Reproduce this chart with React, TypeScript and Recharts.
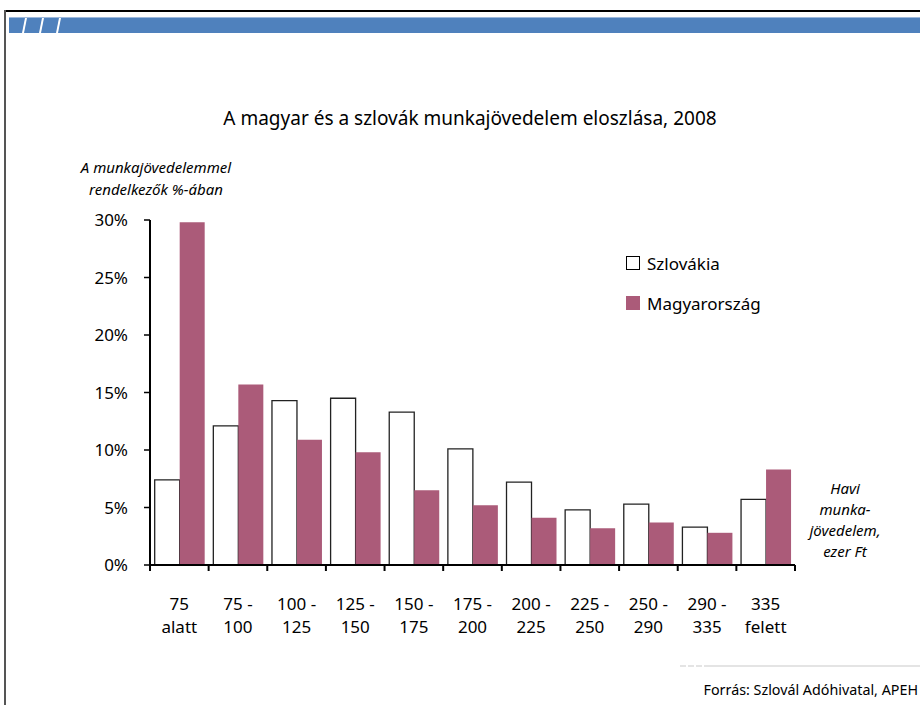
import React from 'react';
import { BarChart, Bar, XAxis, YAxis, Legend } from 'recharts';

const categoryTop = ['75', '75 -', '100 -', '125 -', '150 -', '175 -', '200 -', '225 -', '250 -', '290 -', '335'];
const categoryBottom = ['alatt', '100', '125', '150', '175', '200', '225', '250', '290', '335', 'felett'];
const slovakia = [7.4, 12.1, 14.3, 14.5, 13.3, 10.1, 7.2, 4.8, 5.3, 3.3, 5.7];
const hungary = [29.8, 15.7, 10.9, 9.8, 6.5, 5.2, 4.1, 3.2, 3.7, 2.8, 8.3];
const yTicks = [0, 5, 10, 15, 20, 25, 30];
const seriesNames = ['Szlovákia', 'Magyarország'];

const data = categoryTop.map((t, i) => ({
  name: t + '|' + categoryBottom[i],
  top: t,
  bottom: categoryBottom[i],
  sk: slovakia[i],
  hu: hungary[i],
}));

const W = 920;
const H = 705;
const Y_W = 60;
const X_H = 80;
const M = { top: 220, right: 125, bottom: 140 - X_H, left: 150 - Y_W };
const BAND = (W - 150 - M.right) / categoryTop.length;
const HU_COLOR = '#AB5B79';
const FONT = '"Noto Sans", "Open Sans", sans-serif';

const XTick = (props: any) => {
  const { x, y, index } = props;
  const d = data[index] || { top: '', bottom: '' };
  const last = index === data.length - 1;
  return (
    <g>
      <line x1={x - BAND / 2} x2={x - BAND / 2} y1={y} y2={y + 6} stroke="#000" strokeWidth={2} />
      {last && <line x1={x + BAND / 2} x2={x + BAND / 2} y1={y} y2={y + 6} stroke="#000" strokeWidth={2} />}
      <text x={x} y={y + 45} textAnchor="middle" fontSize={17} fill="#000" fontFamily={FONT}>
        {d.top}
      </text>
      <text x={x} y={y + 68} textAnchor="middle" fontSize={17} fill="#000" fontFamily={FONT}>
        {d.bottom}
      </text>
    </g>
  );
};

const renderLegend = () => (
  <div style={{ fontFamily: FONT, fontSize: 17, color: '#000' }}>
    {seriesNames.map((n, i) => (
      <div key={n} style={{ display: 'flex', alignItems: 'center', height: 40 }}>
        <span
          style={{
            display: 'inline-block',
            width: 12,
            height: 12,
            background: i === 0 ? '#fff' : HU_COLOR,
            border: i === 0 ? '1px solid #000' : '1px solid ' + HU_COLOR,
            marginRight: 7,
          }}
        />
        <span>{n}</span>
      </div>
    ))}
  </div>
);

export default function App() {
  return (
    <div style={{ position: 'absolute', left: 0, top: 0, width: W, height: H, background: '#fff', overflow: 'hidden' }}>
      <div style={{ position: 'absolute', left: 4, top: 10, width: W, height: 1.5, background: '#000' }} />
      <div style={{ position: 'absolute', left: 4, top: 10, width: 1.5, height: H, background: '#555' }} />
      <svg style={{ position: 'absolute', left: 0, top: 0 }} width={W} height={40}>
        <rect x={9} y={18} width={W} height={15} fill="#4F81BD" />
        <rect x={9} y={17} width={W} height={1} fill="#9DB9DD" />
        <polygon points="22,33 24,33 27,18 25,18" fill="#fff" />
        <polygon points="39,33 41,33 44,18 42,18" fill="#fff" />
        <polygon points="56,33 58,33 61,18 59,18" fill="#fff" />
      </svg>
      <div
        style={{
          position: 'absolute', left: 0, width: W - 20, top: 105, textAlign: 'center',
          fontFamily: FONT, fontSize: 19, color: '#000', paddingLeft: 40, boxSizing: 'border-box',
        }}
      >
        A magyar és a szlovák munkajövedelem eloszlása, 2008
      </div>
      <div
        style={{
          position: 'absolute', left: 56, width: 200, top: 156, textAlign: 'center',
          fontFamily: FONT, fontSize: 15, fontStyle: 'italic', lineHeight: '22px', color: '#000',
        }}
      >
        A munkajövedelemmel
        <br />
        rendelkezők %-ában
      </div>
      <div
        style={{
          position: 'absolute', left: 795, width: 100, top: 478, textAlign: 'center',
          fontFamily: FONT, fontSize: 15, fontStyle: 'italic', lineHeight: '21px', color: '#000',
        }}
      >
        Havi
        <br />
        munka-
        <br />
        jövedelem,
        <br />
        ezer Ft
      </div>
      <svg style={{ position: 'absolute', left: 0, top: 660 }} width={W} height={10}>
        <line x1={680} x2={W} y1={6} y2={6} stroke="#e4e4e4" strokeWidth={2} strokeDasharray="6 2 6 2 6 2 1000" />
      </svg>
      <div
        style={{
          position: 'absolute', right: 2, top: 680, fontFamily: FONT, fontSize: 14.3, color: '#000',
        }}
      >
        Forrás: Szlovál Adóhivatal, APEH
      </div>
      <div style={{ position: 'absolute', left: 0, top: 0 }}>
        <BarChart width={W} height={H} data={data} margin={M} barGap={0} barCategoryGap="8%">
          <XAxis
            dataKey="name"
            height={X_H}
            axisLine={{ stroke: '#000', strokeWidth: 2 }}
            tickLine={false}
            tickSize={0}
            tickMargin={0}
            interval={0}
            tick={<XTick />}
          />
          <YAxis
            width={Y_W}
            domain={[0, 30]}
            ticks={yTicks}
            interval={0}
            tickFormatter={(v: number) => v + '%'}
            axisLine={{ stroke: '#000', strokeWidth: 2 }}
            tickLine={{ stroke: '#000', strokeWidth: 1.5 }}
            tickSize={6}
            tickMargin={16}
            tick={{ fill: '#000', fontSize: 17, fontFamily: FONT }}
          />
          <Legend
            content={renderLegend}
            layout="horizontal"
            verticalAlign="middle"
            align="center"
            wrapperStyle={{ left: 626, top: 243, width: 200 }}
          />
          <Bar dataKey="sk" name={seriesNames[0]} fill="#fff" stroke="#222" strokeWidth={1.3} isAnimationActive={false} />
          <Bar dataKey="hu" name={seriesNames[1]} fill={HU_COLOR} isAnimationActive={false} />
        </BarChart>
      </div>
    </div>
  );
}
